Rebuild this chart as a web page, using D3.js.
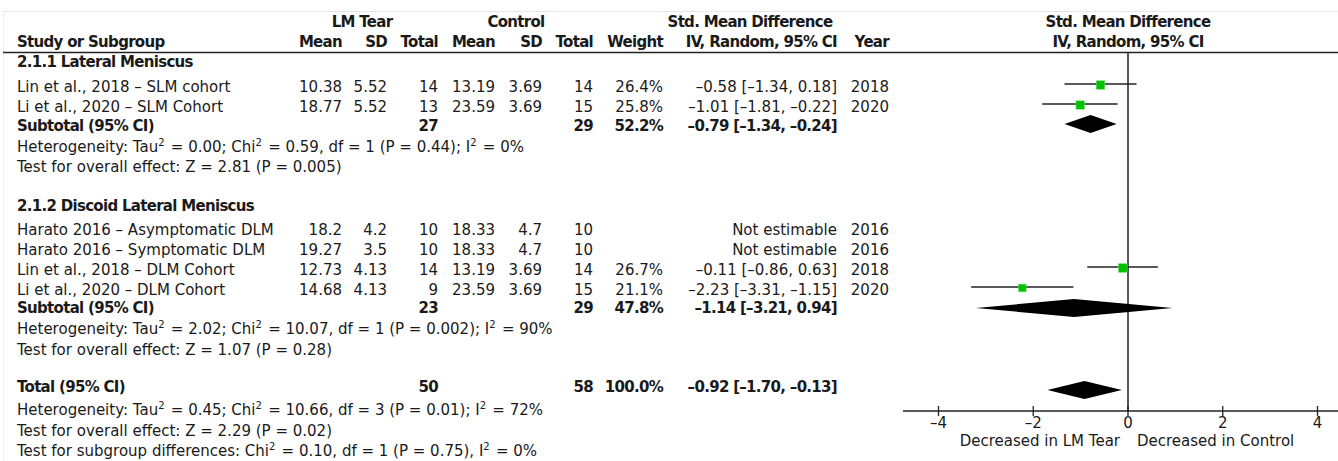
<!DOCTYPE html>
<html>
<head>
<meta charset="utf-8">
<script src="https://cdn.jsdelivr.net/npm/d3@7"></script>
<style>
  html, body { margin: 0; padding: 0; background: #fff; }
  svg { display: block; }
  text { font-family: "DejaVu Sans", Verdana, sans-serif; font-size: 15px; fill: #1a1a1a; }
  .b { font-weight: bold; letter-spacing: -0.7px; }
</style>
</head>
<body>
<svg id="chart" width="1338" height="461"></svg>
<script>
// ---- Study data ----
const studies = [
  "Lin et al., 2018 – SLM cohort",
  "Li et al., 2020 – SLM Cohort",
  "Harato 2016 – Asymptomatic DLM",
  "Harato 2016 – Symptomatic DLM",
  "Lin et al., 2018 – DLM Cohort",
  "Li et al., 2020 – DLM Cohort"
];
const studyGroup   = [0, 0, 1, 1, 1, 1];
const lmMean       = ["10.38", "18.77", "18.2", "19.27", "12.73", "14.68"];
const lmSD         = ["5.52", "5.52", "4.2", "3.5", "4.13", "4.13"];
const lmTotal      = [14, 13, 10, 10, 14, 9];
const ctlMean      = ["13.19", "23.59", "18.33", "18.33", "13.19", "23.59"];
const ctlSD        = ["3.69", "3.69", "4.7", "4.7", "3.69", "3.69"];
const ctlTotal     = [14, 15, 10, 10, 14, 15];
const weight       = [26.4, 25.8, null, null, 26.7, 21.1];
const smd          = [-0.58, -1.01, null, null, -0.11, -2.23];
const ciLow        = [-1.34, -1.81, null, null, -0.86, -3.31];
const ciHigh       = [0.18, -0.22, null, null, 0.63, -1.15];
const year         = [2018, 2020, 2016, 2016, 2018, 2020];

// ---- Subgroups ----
const groupNames     = ["2.1.1 Lateral Meniscus", "2.1.2 Discoid Lateral Meniscus"];
const groupLmTotal   = [27, 23];
const groupCtlTotal  = [29, 29];
const groupWeight    = [52.2, 47.8];
const groupSmd       = [-0.79, -1.14];
const groupLow       = [-1.34, -3.21];
const groupHigh      = [-0.24, 0.94];
const groupHet       = [
  ["0.00", "0.59", "1", "0.44", "0"],
  ["2.02", "10.07", "1", "0.002", "90"]
];
const groupZ         = [["2.81", "0.005"], ["1.07", "0.28"]];

// ---- Overall ----
const totalLm = 50, totalCtl = 58, totalWeight = 100.0;
const totalSmd = -0.92, totalLow = -1.70, totalHigh = -0.13;
const totalHet = ["0.45", "10.66", "3", "0.01", "72"];
const totalZ = ["2.29", "0.02"];
const subgroupDiff = ["0.10", "1", "0.75", "0"];

// ---- Axis ----
const axisTicks = [-4, -2, 0, 2, 4];
const axisLeftLabel = "Decreased in LM Tear";
const axisRightLabel = "Decreased in Control";

// ---------------------------------------------------------------
const svg = d3.select("#chart");
const dash = s => String(s).replace(/-/g, "–");
const f2 = v => dash(v.toFixed(2));
const ciText = (m, l, h) => `${f2(m)} [${f2(l)}, ${f2(h)}]`;

// column right edges
const col = { lmMean: 342, lmSD: 387, lmTot: 438, cMean: 495, cSD: 542, cTot: 593, wt: 663, ci: 837, yr: 889 };
const xLeft = 17;

const x = d3.scaleLinear().domain([-4, 4]).range([938.5, 1317.5]);
const axisY = 411;

// frame lines
svg.append("line").attr("x1", 3).attr("x2", 1338).attr("y1", 11.5).attr("y2", 11.5)
  .attr("stroke", "#e6e6e6").attr("stroke-width", 1);
svg.append("line").attr("x1", 3.5).attr("x2", 3.5).attr("y1", 11.5).attr("y2", 461)
  .attr("stroke", "#eeeeee").attr("stroke-width", 1);
svg.append("line").attr("x1", 3).attr("x2", 1338).attr("y1", 52.5).attr("y2", 52.5)
  .attr("stroke", "#222").attr("stroke-width", 1.6);

function txt(xp, y, s, anchor = "start", bold = false) {
  return svg.append("text").attr("x", xp).attr("y", y).attr("text-anchor", anchor)
    .attr("class", bold ? "b" : null).text(s);
}

// headers
txt(362, 27, "LM Tear", "middle", true);
txt(516, 27, "Control", "middle", true);
txt(750, 27, "Std. Mean Difference", "middle", true);
txt(x(0), 27, "Std. Mean Difference", "middle", true);
txt(xLeft, 47, "Study or Subgroup", "start", true);
[["Mean", col.lmMean], ["SD", col.lmSD], ["Total", col.lmTot], ["Mean", col.cMean], ["SD", col.cSD],
 ["Total", col.cTot], ["Weight", col.wt], ["IV, Random, 95% CI", col.ci], ["Year", col.yr]]
  .forEach(([s, xp]) => txt(xp, 47, s, "end", true));
txt(x(0), 47, "IV, Random, 95% CI", "middle", true);

// statistics lines: plain strings, and {exp: "2"} for a superscript
function statLine(y, parts) {
  const t = svg.append("text").attr("x", xLeft).attr("y", y);
  parts.forEach(p => {
    if (typeof p === "string") {
      t.append("tspan").text(p);
    } else {
      t.append("tspan").attr("dy", -6).attr("font-size", "10px").text(p.exp);
      t.append("tspan").attr("dy", 6).text("\u200A");
    }
  });
}
const SQ = { exp: "2" };
function hetParts(h) {
  return ["Heterogeneity: Tau", SQ, ` = ${h[0]}; Chi`, SQ,
          ` = ${h[1]}, df = ${h[2]} (P = ${h[3]}); I`, SQ, ` = ${h[4]}%`];
}

// vertical line of no effect
svg.append("line").attr("x1", x(0)).attr("x2", x(0)).attr("y1", 53).attr("y2", axisY)
  .attr("stroke", "#222").attr("stroke-width", 1.5);

// layout of each subgroup block (text baselines)
const blocks = [
  { head: 67, rows: [92, 112], sub: 131, het: 152, z: 172, diamondOffset: -7 },
  { head: 211, rows: [235, 255, 275, 295], sub: 313, het: 334, z: 355, diamondOffset: -5 }
];

function diamond(cy, lo, mid, hi, h) {
  svg.append("path")
    .attr("d", `M${x(lo)},${cy} L${x(mid)},${cy - h / 2} L${x(hi)},${cy} L${x(mid)},${cy + h / 2} Z`)
    .attr("fill", "#000");
}

groupNames.forEach((g, gi) => {
  const B = blocks[gi];
  txt(xLeft, B.head, g, "start", true);
  const idx = studies.map((s, i) => i).filter(i => studyGroup[i] === gi);
  idx.forEach((i, k) => {
    const y = B.rows[k];
    txt(xLeft, y, studies[i]);
    txt(col.lmMean, y, lmMean[i], "end");
    txt(col.lmSD, y, lmSD[i], "end");
    txt(col.lmTot, y, lmTotal[i], "end");
    txt(col.cMean, y, ctlMean[i], "end");
    txt(col.cSD, y, ctlSD[i], "end");
    txt(col.cTot, y, ctlTotal[i], "end");
    txt(col.yr, y, year[i], "end");
    if (smd[i] === null) {
      txt(col.ci, y, "Not estimable", "end");
    } else {
      txt(col.wt, y, weight[i].toFixed(1) + "%", "end");
      txt(col.ci, y, ciText(smd[i], ciLow[i], ciHigh[i]), "end");
      const cy = y - 8;
      svg.append("line").attr("x1", x(ciLow[i])).attr("x2", x(ciHigh[i]))
        .attr("y1", cy).attr("y2", cy).attr("stroke", "#222").attr("stroke-width", 1.3);
      const side = 1.65 * Math.sqrt(weight[i]);
      svg.append("rect").attr("x", x(smd[i]) - side / 2).attr("y", cy + 1 - side / 2)
        .attr("width", side).attr("height", side)
        .attr("fill", "#00c000").attr("stroke", "#6bdc6b").attr("stroke-width", 0.6);
    }
  });
  txt(xLeft, B.sub, "Subtotal (95% CI)", "start", true);
  txt(col.lmTot, B.sub, groupLmTotal[gi], "end", true);
  txt(col.cTot, B.sub, groupCtlTotal[gi], "end", true);
  txt(col.wt, B.sub, groupWeight[gi].toFixed(1) + "%", "end", true);
  txt(col.ci, B.sub, ciText(groupSmd[gi], groupLow[gi], groupHigh[gi]), "end", true);
  diamond(B.sub + B.diamondOffset, groupLow[gi], groupSmd[gi], groupHigh[gi], 18);
  statLine(B.het, hetParts(groupHet[gi]));
  statLine(B.z, [`Test for overall effect: Z = ${groupZ[gi][0]} (P = ${groupZ[gi][1]})`]);
});

// overall
const totY = 392;
txt(xLeft, totY, "Total (95% CI)", "start", true);
txt(col.lmTot, totY, totalLm, "end", true);
txt(col.cTot, totY, totalCtl, "end", true);
txt(col.wt, totY, totalWeight.toFixed(1) + "%", "end", true);
txt(col.ci, totY, ciText(totalSmd, totalLow, totalHigh), "end", true);
diamond(totY - 2, totalLow, totalSmd, totalHigh, 18);
statLine(415, hetParts(totalHet));
statLine(436, [`Test for overall effect: Z = ${totalZ[0]} (P = ${totalZ[1]})`]);
statLine(456, ["Test for subgroup differences: Chi", SQ,
  ` = ${subgroupDiff[0]}, df = ${subgroupDiff[1]} (P = ${subgroupDiff[2]}), I`, SQ, ` = ${subgroupDiff[3]}%`]);

// x axis
const axisG = svg.append("g").attr("transform", `translate(0,${axisY})`);
axisG.append("line").attr("x1", 903).attr("x2", 1338).attr("stroke", "#222").attr("stroke-width", 1.5);
axisG.selectAll("line.tick").data(axisTicks).join("line").attr("class", "tick")
  .attr("x1", d => x(d)).attr("x2", d => x(d)).attr("y1", -5).attr("y2", 5)
  .attr("stroke", "#222").attr("stroke-width", 1.3);
axisG.selectAll("text.tl").data(axisTicks).join("text").attr("class", "tl")
  .attr("x", d => x(d)).attr("y", 17).attr("text-anchor", "middle")
  .text(d => d < 0 ? "–" + Math.abs(d) : d);
txt(x(0) - 8, axisY + 35, axisLeftLabel, "end");
txt(x(0) + 9, axisY + 35, axisRightLabel, "start");
</script>
</body>
</html>
